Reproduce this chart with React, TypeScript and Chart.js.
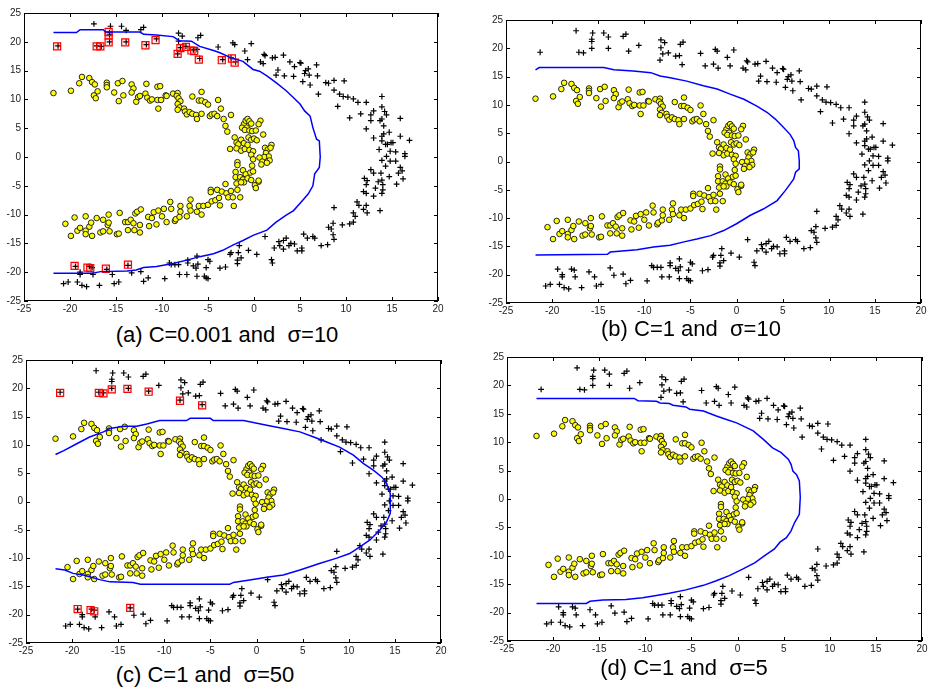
import React, { useEffect, useRef } from 'react';
import { Chart, registerables } from 'chart.js';

Chart.register(...registerables);

const xTickValues = [-25, -20, -15, -10, -5, 0, 5, 10, 15, 20];
const yTickValues = [-25, -20, -15, -10, -5, 0, 5, 10, 15, 20, 25];

const captions = [
  '(a) C=0.001 and  σ=10',
  '(b) C=1 and  σ=10',
  '(c) C=1 and  σ=50',
  '(d) C=1 and  σ=5',
];

// class 1 (yellow circles)
const yellowPoints: number[][] = [
  [-21.8, 11.1], [-19.9, 11.5], [-18.7, 13.9], [-19.0, 12.8], [-17.9, 13.7], [-17.6, 13.0], [-17.3, 12.6],
  [-17.0, 11.4], [-17.4, 10.7], [-17.2, 10.2], [-16.0, 12.9], [-16.0, 12.5], [-16.0, 12.1], [-15.2, 11.2],
  [-14.8, 12.8], [-14.3, 13.2], [-14.7, 9.7], [-14.2, 10.7], [-13.3, 12.6], [-13.1, 11.9], [-13.3, 11.2],
  [-12.8, 9.6], [-12.6, 10.4], [-12.4, 10.6], [-11.8, 11.0], [-11.7, 12.7], [-11.6, 10.3], [-11.3, 9.8],
  [-11.1, 10.0], [-10.5, 12.2], [-10.2, 12.3], [-10.5, 9.9], [-10.1, 9.9], [-10.4, 8.4], [-9.6, 10.7],
  [-9.5, 10.6], [-8.8, 11.0], [-8.3, 11.1], [-8.4, 10.6], [-8.2, 10.2], [-8.0, 9.7], [-8.3, 9.2],
  [-8.1, 8.6], [-8.3, 8.2], [-7.6, 8.4], [-7.5, 7.9], [-7.3, 7.4], [-7.0, 7.8], [-6.7, 10.5], [-6.7, 7.5],
  [-6.3, 7.3], [-6.2, 6.6], [-6.0, 9.8], [-5.7, 11.3], [-5.7, 9.8], [-5.7, 7.5], [-5.3, 9.5], [-5.0, 9.1],
  [-4.8, 7.1], [-4.6, 7.4], [-4.3, 7.5], [-4.0, 7.1], [-3.9, 9.9], [-3.6, 8.4], [-3.3, 6.6], [-3.1, 5.4],
  [-2.9, 4.4], [-2.5, 7.3],
  [-1.1, 5.7], [-0.9, 6.3], [-0.7, 6.6], [-0.5, 6.2], [-0.3, 5.8], [-1.3, 5.1], [-0.8, 5.1], [-1.0, 4.7],
  [-0.5, 4.6], [-0.2, 4.5], [0.2, 4.6], [0.7, 6.3], [0.5, 5.7], [1.0, 3.9], [-2.1, 3.4], [-1.9, 2.5],
  [-1.7, 2.2], [-1.4, 3.0], [-1.1, 2.4], [-0.6, 3.4], [-0.3, 3.0], [0.0, 3.2], [0.3, 2.9], [-2.6, 1.4],
  [-1.9, 1.5], [-1.4, 1.1], [-1.0, 1.4], [-0.5, 1.2], [-0.7, 2.1], [-0.1, 1.0], [-0.3, 0.4], [1.2, 1.6],
  [1.5, 1.3], [1.9, 2.1], [1.8, 1.6], [1.3, 0.7], [1.6, 0.1], [1.1, 0.0], [0.6, -0.1], [0.9, -0.8],
  [1.7, -0.6], [1.4, -1.0], [0.8, -1.3], [-0.1, -0.4], [-1.8, -0.9], [-1.8, -1.4], [-2.0, -2.6], [-2.0, -3.5],
  [-1.2, -2.3], [-0.9, -3.0], [-0.4, -2.7], [-0.2, -1.5], [-0.1, -2.5], [-1.5, -3.5], [-1.2, -3.9], [-0.7, -3.7],
  [-1.7, -4.3], [-1.9, -4.6], [-0.3, -4.0], [0.1, -4.9], [0.2, -5.4], [0.5, -4.3], [-1.1, -4.4],
  [-20.5, -11.6], [-19.9, -13.7], [-19.5, -10.5], [-19.2, -12.8], [-18.9, -12.3], [-18.3, -10.3], [-18.3, -12.8],
  [-18.3, -13.4], [-17.9, -12.1], [-17.7, -11.4], [-17.6, -13.7], [-17.1, -10.6], [-16.7, -13.1], [-16.4, -12.9],
  [-16.4, -10.9], [-15.9, -11.8], [-15.8, -10.0], [-15.8, -11.4], [-15.7, -12.9], [-14.9, -13.4], [-14.7, -13.3],
  [-14.6, -9.7], [-14.0, -11.3], [-13.7, -11.3], [-13.7, -12.7], [-13.4, -10.9], [-13.1, -11.5], [-13.0, -12.7],
  [-12.9, -9.8], [-12.7, -9.5], [-12.4, -11.8], [-12.4, -13.1], [-12.3, -9.1], [-11.5, -10.4], [-11.4, -12.0],
  [-11.1, -10.6], [-10.9, -9.6], [-10.6, -11.7], [-10.4, -9.3], [-10.0, -10.3], [-9.8, -9.0], [-9.5, -11.3],
  [-9.1, -7.8], [-9.0, -9.0], [-8.6, -11.1], [-8.5, -10.8], [-8.1, -10.4], [-8.0, -8.5], [-8.0, -9.5],
  [-7.3, -10.3], [-7.0, -8.5], [-6.9, -7.4], [-6.9, -9.3], [-6.2, -9.5], [-6.0, -8.5], [-5.7, -10.0],
  [-5.5, -8.5], [-5.0, -8.3], [-4.7, -5.7], [-4.7, -6.1], [-4.6, -7.7], [-4.2, -7.5], [-4.0, -5.7],
  [-3.8, -7.1], [-3.7, -8.4], [-3.5, -6.0], [-3.1, -4.7], [-3.0, -6.3], [-2.8, -7.0], [-2.5, -5.9],
  [-2.3, -7.0], [-2.2, -8.5], [-1.8, -5.7], [-1.5, -7.0], [-1.4, -4.4], [0.5, -4.1],
];

// class 2 (black plus signs)
const plusPoints: number[][] = [
  [-21.3, 19.3], [-17.4, 23.1], [-17.1, 19.3], [-16.6, 19.2], [-15.6, 22.7], [-15.7, 21.6], [-15.7, 21.2],
  [-15.7, 20.0], [-14.4, 22.7], [-13.9, 22.0], [-13.9, 20.0], [-12.3, 22.1], [-12.0, 22.5], [-11.7, 19.5],
  [-10.6, 20.5], [-8.2, 21.5], [-7.8, 21.0], [-8.2, 20.1], [-8.0, 19.0], [-8.3, 17.9], [-7.4, 19.2],
  [-6.6, 18.6], [-6.1, 20.7], [-5.8, 21.1], [-6.2, 18.7], [-5.9, 17.1], [-3.9, 19.1], [-3.4, 16.9],
  [-2.3, 19.8], [-2.1, 19.5], [-2.5, 17.2], [-2.0, 16.5], [-1.0, 18.4], [-0.7, 16.9], [-0.3, 19.7],
  [0.7, 16.5], [1.0, 16.2], [1.1, 17.8], [1.2, 17.6], [2.0, 17.2], [2.3, 17.3], [3.2, 17.7], [2.6, 15.1],
  [2.4, 14.2], [3.3, 14.1], [3.9, 16.5], [4.4, 15.7], [4.3, 14.0], [5.0, 16.4], [5.1, 16.3], [5.6, 15.0],
  [5.5, 14.5], [5.9, 15.3], [6.0, 14.2], [5.3, 13.1], [6.1, 12.5], [6.8, 16.0], [6.9, 14.1], [7.0, 10.9],
  [7.8, 12.9], [8.1, 12.8], [8.7, 13.3], [8.7, 11.6], [9.8, 13.2], [9.1, 8.8], [9.3, 10.9], [9.7, 10.5],
  [10.2, 10.4], [10.8, 10.1], [10.4, 6.8], [11.3, 9.5], [11.6, 7.5], [12.2, 9.5], [12.2, 4.9], [12.7, 7.3],
  [13.0, 8.0], [12.7, 6.3], [13.0, 3.3], [13.6, 1.3], [13.7, 6.3], [13.9, 10.5], [13.9, 8.7], [13.9, 6.6],
  [14.1, 5.4], [14.2, 7.9], [14.4, 7.3], [13.9, 3.6], [14.1, 4.0], [13.9, 2.8], [14.3, 2.2], [14.5, 2.2],
  [14.7, 4.3], [14.8, 1.0], [14.9, 2.5], [15.1, 2.5], [14.4, 0.1], [13.9, -0.6], [14.3, -1.6], [14.8, -0.7],
  [15.4, -0.7], [15.4, 0.9], [15.9, 3.6], [15.9, 6.7], [16.9, 2.9], [16.4, 0.6], [16.4, 0.1], [15.9, -1.8],
  [16.1, -2.4], [16.2, -3.8], [15.7, -2.8], [15.5, -4.7], [14.7, -3.4], [13.8, -2.8], [13.9, -4.0],
  [13.5, -4.3], [13.2, -5.4], [12.7, -2.2], [13.0, -2.8], [12.3, -4.1], [12.0, -3.7], [12.2, -4.8],
  [11.9, -6.0], [12.2, -6.3], [13.0, -6.8], [14.0, -5.7], [13.9, -6.3], [14.0, -4.8], [11.2, -7.8],
  [11.4, -8.4], [12.2, -8.4], [11.9, -9.1], [12.3, -9.7], [13.7, -9.3], [10.8, -9.7], [11.0, -10.3],
  [8.7, -8.8], [9.6, -11.8], [10.4, -11.6], [10.8, -11.3], [8.6, -11.5], [8.1, -12.2], [8.4, -12.5],
  [8.6, -13.5], [8.7, -14.3], [8.0, -15.2], [7.3, -15.4], [6.4, -13.8], [6.6, -14.1], [5.8, -14.1],
  [5.4, -13.4], [5.2, -15.8], [5.2, -16.3], [4.7, -16.3], [4.4, -15.1], [4.0, -15.0], [3.8, -15.4],
  [3.5, -14.1], [3.2, -14.5], [2.7, -14.7], [2.2, -15.8], [3.2, -16.0], [2.8, -15.4], [1.2, -13.8],
  [0.3, -16.9], [-0.6, -16.2], [-1.6, -15.4], [-1.7, -16.6], [-1.4, -17.5], [-1.8, -17.9], [-1.8, -18.5],
  [-2.5, -16.6], [-2.6, -16.9], [1.9, -17.8], [2.0, -18.4], [-3.1, -19.1], [-3.7, -19.3], [-4.8, -18.1],
  [-5.0, -17.8], [-5.2, -19.2], [-5.2, -21.0], [-5.0, -21.1], [-5.4, -20.7], [-6.2, -17.2], [-6.1, -18.6],
  [-6.3, -19.3], [-6.6, -18.9], [-7.2, -17.9], [-7.2, -18.4], [-7.3, -20.4], [-6.2, -20.7], [-8.1, -20.4],
  [-8.2, -18.7], [-8.6, -18.7], [-9.0, -18.7], [-9.2, -18.4], [-9.7, -21.1], [-11.5, -21.0], [-12.0, -21.6],
  [-12.3, -19.9], [-13.3, -20.1], [-13.7, -18.8], [-14.7, -21.7], [-15.2, -22.0], [-15.4, -20.4],
  [-16.0, -19.5], [-16.8, -22.3], [-17.5, -20.4], [-17.6, -19.2], [-17.9, -19.0], [-18.9, -20.0],
  [-18.9, -20.4], [-19.4, -19.0], [-19.2, -21.7], [-18.7, -22.3], [-18.2, -22.5], [-20.2, -21.7],
  [-20.7, -22.0],
];

// support vectors (red squares)
const supportA: number[][] = [
  [-21.4, 19.2], [-17.1, 19.2], [-16.7, 19.2], [-15.8, 21.7], [-15.8, 21.1], [-15.8, 19.9], [-14.0, 19.9],
  [-11.8, 19.4], [-10.7, 20.3], [-8.3, 17.9], [-8.0, 18.9], [-7.4, 19.1], [-6.8, 18.5], [-6.5, 18.4],
  [-6.0, 16.9], [-3.5, 16.8], [-2.4, 17.1], [-2.1, 16.4], [-19.5, -18.9], [-18.1, -19.2], [-17.8, -19.3],
  [-16.1, -19.4], [-13.7, -18.7],
];
const supportC: number[][] = [
  [-21.3, 19.2], [-17.1, 19.2], [-16.6, 19.1], [-15.7, 19.8], [-14.0, 19.9], [-11.7, 19.4], [-8.3, 17.8],
  [-5.9, 17.0], [-19.4, -19.0], [-18.0, -19.2], [-17.6, -19.4], [-13.7, -18.8],
];

// decision boundaries (blue)
const boundaryA: number[][] = [
  [-21.8, 21.6], [-19.3, 21.6], [-18.9, 22.1], [-16.4, 22.1], [-16.1, 21.7], [-12.4, 21.7], [-12.0, 21.3],
  [-10.6, 21.2], [-8.8, 20.9], [-8.1, 20.2], [-6.8, 20.1], [-5.9, 19.2], [-4.4, 18.5], [-3.7, 18.1],
  [-2.6, 17.3], [-1.2, 16.6], [-0.1, 15.2], [0.6, 14.9], [1.4, 14.1], [2.4, 12.9], [3.5, 11.5], [4.3, 10.3],
  [5.0, 9.2], [5.5, 8.0], [6.1, 7.1], [6.4, 5.1], [6.8, 3.1], [7.1, 2.8], [7.2, 0.0], [7.1, -1.8], [6.6, -2.9],
  [6.4, -5.0], [5.9, -6.4], [5.3, -7.5], [4.3, -9.3], [3.5, -10.1], [2.4, -11.3], [1.4, -12.7], [-0.1, -13.6],
  [-1.2, -14.5], [-2.3, -15.3], [-3.4, -16.2], [-4.4, -16.8], [-5.9, -17.3], [-7.3, -17.9], [-8.8, -18.5],
  [-10.6, -19.0], [-12.0, -19.2], [-12.8, -19.6], [-13.8, -19.8], [-16.7, -19.9], [-17.5, -20.2], [-21.8, -20.2],
];
const boundaryB: number[][] = [
  [-21.8, 16.2], [-21.4, 16.6], [-14.4, 16.6], [-13.3, 16.2], [-11.2, 16.0], [-9.3, 15.7], [-8.3, 15.1],
  [-7.2, 14.8], [-5.4, 14.2], [-3.6, 13.4], [-2.1, 12.8], [-0.7, 11.9], [0.8, 11.0], [2.2, 9.8], [3.3, 8.7],
  [4.2, 7.5], [5.1, 6.0], [5.8, 4.8], [6.2, 3.7], [6.4, 2.5], [6.7, 1.9], [6.8, 0.1], [6.8, -1.3], [6.4, -1.9],
  [6.2, -3.1], [5.8, -4.0], [5.3, -5.1], [4.4, -6.9], [2.9, -8.4], [1.5, -9.5], [0.0, -11.0], [-1.4, -12.2],
  [-2.8, -13.1], [-4.3, -13.7], [-5.7, -14.2], [-7.2, -14.8], [-9.0, -15.1], [-10.8, -15.6], [-13.7, -16.0],
  [-14.0, -16.4], [-21.8, -16.5],
];
const boundaryC: number[][] = [
  [-21.8, 8.3], [-20.9, 9.0], [-19.5, 10.2], [-18.1, 11.4], [-16.6, 12.3], [-15.9, 12.9], [-14.4, 13.3],
  [-13.0, 13.3], [-11.9, 13.7], [-10.5, 14.3], [-7.6, 14.3], [-7.2, 14.7], [-5.0, 14.7], [-4.7, 14.3],
  [-1.4, 14.3], [0.7, 13.6], [2.9, 12.9], [4.7, 12.3], [6.2, 11.4], [7.6, 10.5], [9.0, 9.6], [10.5, 8.2],
  [11.6, 6.7], [12.7, 5.5], [13.6, 4.3], [14.1, 3.2], [14.5, 1.4], [14.5, -0.4], [14.5, -2.1], [14.1, -3.6],
  [13.4, -5.0], [12.3, -6.8], [11.2, -8.0], [10.1, -9.2], [8.7, -10.0], [6.9, -10.9], [4.7, -12.1],
  [2.9, -13.0], [1.1, -13.4], [-0.4, -13.8], [-2.5, -14.3], [-2.9, -14.6], [-12.6, -14.6], [-13.4, -14.3],
  [-15.9, -14.2], [-17.0, -13.8], [-18.8, -13.0], [-19.9, -12.7], [-20.8, -12.1], [-21.8, -11.9],
];
const boundaryD: number[][] = [
  [-21.8, 17.7], [-11.2, 17.7], [-10.8, 17.3], [-8.8, 17.2], [-8.4, 16.9], [-7.4, 16.8], [-7.0, 16.5],
  [-5.6, 16.2], [-5.2, 15.8], [-3.7, 15.5], [-2.3, 14.6], [-1.2, 14.0], [-0.1, 13.4], [0.8, 12.7], [1.7, 12.0],
  [2.8, 10.5], [3.8, 9.0], [4.7, 8.2], [5.5, 7.0], [5.8, 6.1], [6.0, 4.9], [6.4, 4.3], [6.7, 3.2], [6.8, 0.3],
  [6.7, -2.7], [6.2, -4.1], [5.8, -5.6], [5.3, -6.8], [4.6, -7.6], [4.0, -8.8], [2.9, -10.0], [1.9, -11.2],
  [0.6, -12.3], [-0.9, -13.5], [-2.3, -14.4], [-3.7, -15.2], [-5.6, -16.0], [-7.4, -16.6], [-8.8, -17.0],
  [-10.3, -17.4], [-12.1, -17.7], [-14.6, -17.8], [-16.0, -18.0], [-16.4, -18.4], [-21.8, -18.4],
];

const AXIS_W = 32;
const AXIS_H = 16;
const PAD_T = 8;
const PAD_R = 12;

type PanelCfg = {
  left: number; top: number; width: number; height: number;
  boundary: number[][]; support: number[][] | null;
  caption: string; capCenter: number; capTop: number;
};

const panels: PanelCfg[] = [
  { left: 24, top: 12, width: 414, height: 289, boundary: boundaryA, support: supportA, caption: captions[0], capCenter: 227, capTop: 323 },
  { left: 506, top: 19, width: 415, height: 284, boundary: boundaryB, support: null, caption: captions[1], capCenter: 691, capTop: 317 },
  { left: 26, top: 359, width: 415, height: 284, boundary: boundaryC, support: supportC, caption: captions[2], capCenter: 205, capTop: 663 },
  { left: 507, top: 356, width: 415, height: 285, boundary: boundaryD, support: null, caption: captions[3], capCenter: 684, capTop: 656 },
];

const boxPlugin = {
  id: 'matlabBox',
  afterDraw(chart: any) {
    const { ctx, chartArea: a, scales } = chart;
    ctx.save();
    ctx.strokeStyle = '#000';
    ctx.lineWidth = 1;
    ctx.strokeRect(a.left + 0.5, a.top + 0.5, a.right - a.left - 1, a.bottom - a.top - 1);
    const len = 4;
    ctx.beginPath();
    xTickValues.forEach((v) => {
      const px = Math.round(scales.x.getPixelForValue(v)) + 0.5;
      ctx.moveTo(px, a.bottom);
      ctx.lineTo(px, a.bottom - len);
      ctx.moveTo(px, a.top);
      ctx.lineTo(px, a.top + len);
    });
    yTickValues.forEach((v) => {
      const py = Math.round(scales.y.getPixelForValue(v)) + 0.5;
      ctx.moveTo(a.left, py);
      ctx.lineTo(a.left + len, py);
      ctx.moveTo(a.right, py);
      ctx.lineTo(a.right - len, py);
    });
    ctx.stroke();
    ctx.restore();
  },
};

const toXY = (arr: number[][]) => arr.map(([x, y]) => ({ x, y }));

function Panel({ cfg }: { cfg: PanelCfg }) {
  const ref = useRef<HTMLCanvasElement>(null);
  const W = cfg.width + AXIS_W + PAD_R;
  const H = cfg.height + PAD_T + AXIS_H;
  useEffect(() => {
    if (!ref.current) return;
    const datasets: any[] = [
      {
        label: 'boundary',
        data: toXY(cfg.boundary),
        showLine: true,
        borderColor: '#0000ff',
        borderWidth: 1.5,
        pointRadius: 0,
        fill: false,
        tension: 0,
      },
    ];
    if (cfg.support) {
      datasets.push({
        label: 'support vectors',
        data: toXY(cfg.support),
        pointStyle: 'rect',
        pointRadius: 5,
        backgroundColor: 'rgba(255,0,0,0.08)',
        borderColor: '#ff0000',
        borderWidth: 1.2,
      });
    }
    datasets.push({
      label: 'class 2',
      data: toXY(plusPoints),
      pointStyle: 'cross',
      pointRadius: 2.9,
      borderColor: '#000',
      borderWidth: 1.2,
    });
    datasets.push({
      label: 'class 1',
      data: toXY(yellowPoints),
      pointStyle: 'circle',
      pointRadius: 2.8,
      backgroundColor: '#ffff00',
      borderColor: '#222',
      borderWidth: 1,
    });
    const tickFont = { family: "'Liberation Sans', Arial, sans-serif", size: 10 };
    const chart = new Chart(ref.current, {
      type: 'scatter',
      data: { datasets },
      options: {
        animation: false,
        responsive: false,
        devicePixelRatio: 1,
        events: [],
        layout: { padding: { top: PAD_T, right: PAD_R, left: 0, bottom: 0 } },
        plugins: { legend: { display: false }, tooltip: { enabled: false } },
        scales: {
          x: {
            type: 'linear',
            min: -25,
            max: 20,
            afterBuildTicks: (s: any) => { s.ticks = xTickValues.map((value) => ({ value })); },
            afterFit: (s: any) => { s.height = AXIS_H; },
            ticks: { font: tickFont, color: '#222', padding: 2, maxRotation: 0, autoSkip: false },
            grid: { display: false, drawTicks: false },
            border: { display: false },
          },
          y: {
            type: 'linear',
            min: -25,
            max: 25,
            afterBuildTicks: (s: any) => { s.ticks = yTickValues.map((value) => ({ value })); },
            afterFit: (s: any) => { s.width = AXIS_W; },
            ticks: { font: tickFont, color: '#222', padding: 3, autoSkip: false },
            grid: { display: false, drawTicks: false },
            border: { display: false },
          },
        },
      } as any,
      plugins: [boxPlugin],
    });
    return () => chart.destroy();
  }, []);
  return (
    <>
      <canvas
        ref={ref}
        width={W}
        height={H}
        style={{ position: 'absolute', left: cfg.left - AXIS_W, top: cfg.top - PAD_T, width: W, height: H }}
      />
      <div
        style={{
          position: 'absolute',
          left: cfg.capCenter - 160,
          top: cfg.capTop,
          width: 320,
          textAlign: 'center',
          fontFamily: "'Liberation Sans', Arial, sans-serif",
          fontSize: 22,
          lineHeight: '24px',
          color: '#000',
          whiteSpace: 'pre',
        }}
      >
        {cfg.caption}
      </div>
    </>
  );
}

export default function App() {
  return (
    <div style={{ position: 'absolute', left: 0, top: 0, width: 929, height: 687, background: '#fff', overflow: 'hidden' }}>
      {panels.map((p, i) => (
        <Panel key={i} cfg={p} />
      ))}
    </div>
  );
}
